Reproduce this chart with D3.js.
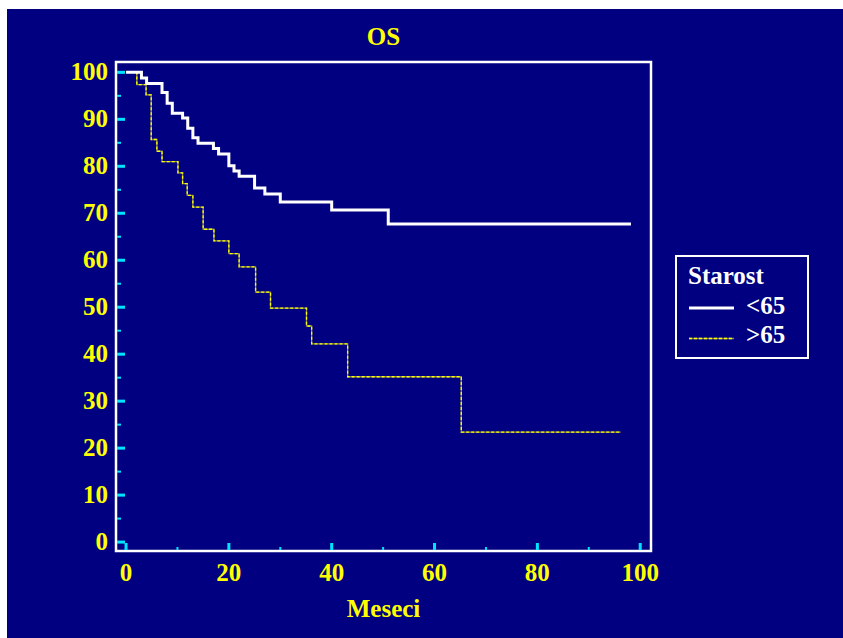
<!DOCTYPE html>
<html>
<head>
<meta charset="utf-8">
<script src="https://cdn.jsdelivr.net/npm/d3@7"></script>
<style>
  html, body { margin: 0; padding: 0; background: #ffffff; }
  svg { display: block; }
  text { font-family: "Liberation Serif", "Times New Roman", serif; font-weight: bold; }
</style>
</head>
<body>
<script>
// Kaplan-Meier overall survival (OS) by age group
const groupNames = ["<65", ">65"];
const youngTimes = [0, 3, 4, 7, 8, 9, 11, 12, 13, 14, 17, 18, 20, 21, 22, 25, 27, 30, 40, 51];
const youngSurv  = [100, 98.8, 97.6, 95.7, 93.4, 91.3, 90.3, 88.1, 86.1, 84.9, 83.8, 82.6, 80.1, 79.0, 77.9, 75.4, 74.1, 72.4, 70.7, 67.7];
const youngFollowUp = 98.2;
const oldTimes = [0, 2.1, 3.9, 4.9, 6.0, 7.0, 10.1, 11.0, 11.9, 13.0, 15.0, 17.1, 20.0, 22.0, 25.2, 28.1, 35.1, 36.1, 43.1, 65.2];
const oldSurv  = [100, 97.4, 95.2, 85.7, 83.2, 81.0, 78.6, 76.3, 73.8, 71.3, 66.6, 64.1, 61.4, 58.6, 53.2, 49.8, 46.0, 42.2, 35.2, 23.4];
const oldFollowUp = 96.2;
const xTickLabels = [0, 20, 40, 60, 80, 100];
const yTickLabels = [0, 10, 20, 30, 40, 50, 60, 70, 80, 90, 100];
const chartTitle = "OS";
const xTitle = "Meseci";
const legendTitle = "Starost";

const W = 843, H = 638;
const navy = "#000080", yellow = "#ffff00", cyan = "#00e5ff";
const frame = { left: 116, right: 651, top: 62, bottom: 551 };

const svg = d3.select("body").append("svg").attr("width", W).attr("height", H);
svg.append("rect").attr("x", 7).attr("y", 9).attr("width", W - 7).attr("height", H - 9).attr("fill", navy);

const x = d3.scaleLinear().domain([-1.95, 102.1]).range([frame.left, frame.right]);
const y = d3.scaleLinear().domain([-1.9, 102.2]).range([frame.bottom, frame.top]);

// plot frame
svg.append("rect")
  .attr("x", frame.left).attr("y", frame.top)
  .attr("width", frame.right - frame.left).attr("height", frame.bottom - frame.top)
  .attr("fill", "none").attr("stroke", "#ffffff").attr("stroke-width", 2.5);

// y ticks (inside, major every 10, minor every 5)
const yMinor = d3.range(5, 100, 10);
svg.append("g").selectAll("line").data(yTickLabels).join("line")
  .attr("x1", frame.left + 1).attr("x2", frame.left + 9)
  .attr("y1", d => y(d)).attr("y2", d => y(d))
  .attr("stroke", cyan).attr("stroke-width", 3);
svg.append("g").selectAll("line").data(yMinor).join("line")
  .attr("x1", frame.left + 1).attr("x2", frame.left + 5)
  .attr("y1", d => y(d)).attr("y2", d => y(d))
  .attr("stroke", cyan).attr("stroke-width", 2);
svg.append("g").selectAll("text").data(yTickLabels).join("text")
  .attr("x", frame.left - 8).attr("y", d => y(d) + 8)
  .attr("text-anchor", "end").attr("font-size", 25).attr("fill", yellow)
  .text(d => d);

// x ticks (inside, major every 20, minor every 10)
const xMinor = d3.range(10, 100, 20);
svg.append("g").selectAll("line").data(xTickLabels).join("line")
  .attr("x1", d => x(d)).attr("x2", d => x(d))
  .attr("y1", frame.bottom - 1).attr("y2", frame.bottom - 8)
  .attr("stroke", cyan).attr("stroke-width", 3);
svg.append("g").selectAll("line").data(xMinor).join("line")
  .attr("x1", d => x(d)).attr("x2", d => x(d))
  .attr("y1", frame.bottom - 1).attr("y2", frame.bottom - 4)
  .attr("stroke", cyan).attr("stroke-width", 2);
svg.append("g").selectAll("text").data(xTickLabels).join("text")
  .attr("x", d => x(d)).attr("y", frame.bottom + 30)
  .attr("text-anchor", "middle").attr("font-size", 25).attr("fill", yellow)
  .text(d => d);

// titles
const midX = (frame.left + frame.right) / 2;
svg.append("text").attr("x", midX).attr("y", 45).attr("text-anchor", "middle")
  .attr("font-size", 25).attr("fill", yellow).text(chartTitle);
svg.append("text").attr("x", midX).attr("y", 617).attr("text-anchor", "middle")
  .attr("font-size", 25).attr("fill", yellow).text(xTitle);

// survival step curves
function stepPoints(times, surv, end) {
  const pts = times.map((t, i) => [t, surv[i]]);
  pts.push([end, surv[surv.length - 1]]);
  return pts;
}
const line = d3.line().x(d => x(d[0])).y(d => y(d[1])).curve(d3.curveStepAfter);

const oldPts = stepPoints(oldTimes, oldSurv, oldFollowUp);
svg.append("path").attr("d", line(oldPts)).attr("fill", "none")
  .attr("stroke", "#8a8a50").attr("stroke-width", 1.3);
svg.append("path").attr("d", line(oldPts)).attr("fill", "none")
  .attr("stroke", yellow).attr("stroke-width", 1.3).attr("stroke-dasharray", "3,2");

const youngPts = stepPoints(youngTimes, youngSurv, youngFollowUp);
svg.append("path").attr("d", line(youngPts)).attr("fill", "none")
  .attr("stroke", "#ffffff").attr("stroke-width", 3);

// legend
const lg = svg.append("g");
lg.append("rect").attr("x", 676).attr("y", 256).attr("width", 132).attr("height", 102)
  .attr("fill", navy).attr("stroke", "#ffffff").attr("stroke-width", 2);
lg.append("text").attr("x", 688).attr("y", 284).attr("font-size", 25).attr("fill", "#ffffff").text(legendTitle);
lg.append("line").attr("x1", 689).attr("x2", 734).attr("y1", 308).attr("y2", 308)
  .attr("stroke", "#ffffff").attr("stroke-width", 3);
lg.append("line").attr("x1", 689).attr("x2", 734).attr("y1", 338.5).attr("y2", 338.5)
  .attr("stroke", "#8a8a50").attr("stroke-width", 1.3);
lg.append("line").attr("x1", 689).attr("x2", 734).attr("y1", 338.5).attr("y2", 338.5)
  .attr("stroke", yellow).attr("stroke-width", 1.3).attr("stroke-dasharray", "3,2");
lg.append("text").attr("x", 746).attr("y", 314).attr("font-size", 25).attr("fill", "#ffffff").text(groupNames[0]);
lg.append("text").attr("x", 746).attr("y", 343).attr("font-size", 25).attr("fill", "#ffffff").text(groupNames[1]);
</script>
</body>
</html>
